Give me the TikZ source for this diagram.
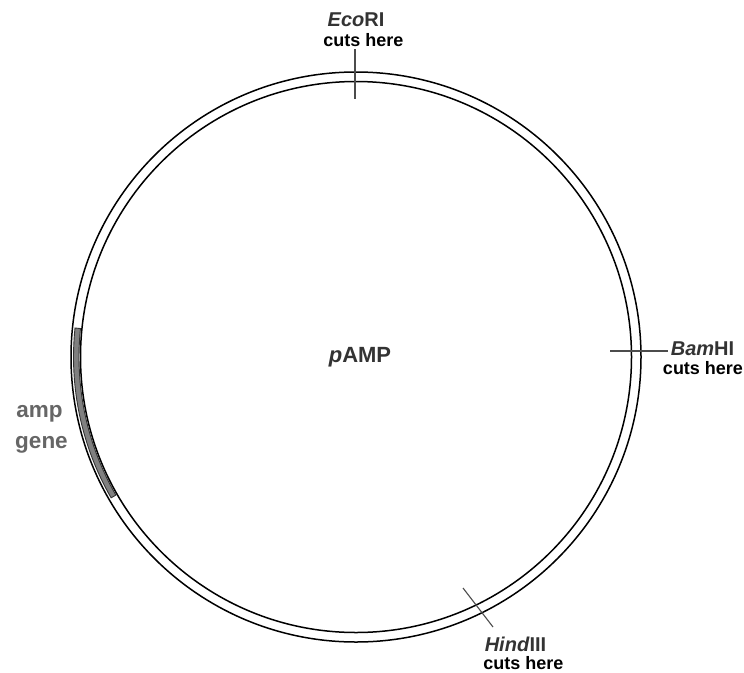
\documentclass[tikz,border=0pt]{standalone}
\usepackage{fontspec}
\setmainfont{Liberation Sans}
\begin{document}
\begin{tikzpicture}[x=1pt,y=1pt,
  ring/.style={draw=black,line width=1.5pt},
  tick/.style={draw=black!70,line width=1.1pt},
  enz/.style={inner sep=0pt,anchor=base,font=\fontsize{20}{20}\selectfont\bfseries,text=black!80},
  cuts/.style={inner sep=0pt,anchor=base,font=\fontsize{18}{18}\selectfont\bfseries,text=black},
  genelbl/.style={inner sep=0pt,anchor=base,font=\fontsize{22.5}{22.5}\selectfont\bfseries,text=black!60}]
\useasboundingbox (0,-672) rectangle (744,0);
\coordinate (c) at (356,-357);
% plasmid rings
\draw[ring] (c) circle (285);
\draw[ring] (c) circle (275.5);
% amp gene band
\fill[black!50,draw=black!80,line width=0.9pt]
  ([shift={(174.1:282.5)}]c) arc (174.1:209.9:282.5)
  -- ([shift={(209.9:277)}]c) arc (209.9:174.1:277) -- cycle;
% cut-site ticks
\draw[tick] (355,-49) -- (355,-99);
\draw[tick] (610,-351) -- (668,-351);
\draw[tick] (463,-588) -- (493,-627);
% labels
\node[enz] (eco) at (356,-26) {\textit{Eco}RI};
\node[cuts] (ecoc) at (363.5,-46.5) {cuts here};
\node[enz] (bam) at (702.5,-355) {\textit{Bam}HI};
\node[cuts] (bamc) at (703,-374) {cuts here};
\node[enz] (hind) at (515.5,-651) {\textit{Hind}III};
\node[cuts] (hindc) at (523.5,-669.5) {cuts here};
\node[enz,font=\fontsize{22}{22}\selectfont\bfseries] (pamp) at (360,-362) {\textit{p}AMP};
\node[genelbl] (amp) at (39.5,-417) {amp};
\node[genelbl] (gene) at (41.5,-448) {gene};
\end{tikzpicture}
\end{document}
